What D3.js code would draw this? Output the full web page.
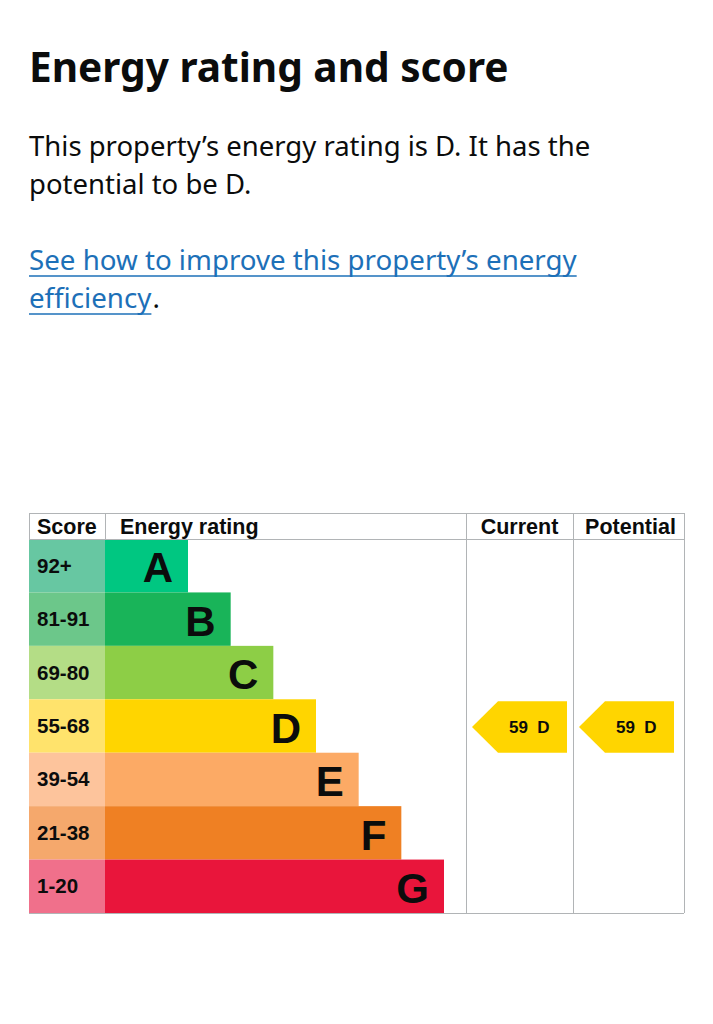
<!DOCTYPE html>
<html>
<head>
<meta charset="utf-8">
<script src="https://cdn.jsdelivr.net/npm/d3@7"></script>
<style>
  body { margin: 0; background: #fff; }
</style>
</head>
<body>
<svg id="svg"></svg>
<script>
var width = 713;
var height = 1024;

// rating bands, top to bottom
const bands = ["A", "B", "C", "D", "E", "F", "G"];
const scoreRanges = ["92+", "81-91", "69-80", "55-68", "39-54", "21-38", "1-20"];
const bandMin = [92, 81, 69, 55, 39, 21, 1];
const barColors = ["#00c781", "#19b459", "#8dce46", "#ffd500", "#fcaa65", "#ef8023", "#e9153b"];
const scoreColors = ["#67c7a2", "#6cc78a", "#b4dd86", "#ffe36c", "#fdc49c", "#f5a86c", "#f0708b"];
const columns = ["Score", "Energy rating", "Current", "Potential"];

const currentScore = 59;
const potentialScore = 59;

const titleText = "Energy rating and score";
const bodyLines = ["This property\u2019s energy rating is D. It has the", "potential to be D."];
const linkLines = ["See how to improve this property\u2019s energy", "efficiency"];

var svg = d3.select("#svg")
    .attr("width", width)
    .attr("height", height)
    .attr("viewBox", [0, 0, width, height]);

const textFont = "'Noto Sans', sans-serif";
const chartFont = "'Liberation Sans', Arial, sans-serif";

// heading + paragraph
svg.append("text")
    .attr("x", 29).attr("y", 82)
    .attr("font-family", textFont)
    .attr("font-weight", 700)
    .attr("font-size", 40.6)
    .attr("fill", "#0b0c0c")
    .text(titleText);

svg.append("g").selectAll("text")
  .data(bodyLines)
  .join("text")
    .attr("x", 29)
    .attr("y", (d, i) => 156 + i * 38)
    .attr("font-family", textFont)
    .attr("font-size", 27.5)
    .attr("fill", "#0b0c0c")
    .text(d => d);

var linkG = svg.append("g");
linkG.selectAll("text")
  .data(linkLines)
  .join("text")
    .attr("x", 29)
    .attr("y", (d, i) => 270 + i * 38)
    .attr("font-family", textFont)
    .attr("font-size", 27.7)
    .attr("fill", "#1d70b8")
    .text(d => d)
    .each(function(d, i) {
      var w = this.getComputedTextLength();
      linkG.append("line")
          .attr("x1", 29).attr("x2", 29 + w)
          .attr("y1", 276 + i * 38).attr("y2", 276 + i * 38)
          .attr("stroke", "#1d70b8")
          .attr("stroke-width", 1.5);
      if (i === linkLines.length - 1) {
        svg.append("text")
            .attr("x", 29 + w + 1)
            .attr("y", 270 + i * 38)
            .attr("font-family", textFont)
            .attr("font-size", 27.7)
            .attr("fill", "#0b0c0c")
            .text(".");
      }
    });

// chart frame
const fLeft = 29, fRight = 684, fTop = 513, headH = 26, fBottom = 913;
const scoreRight = 105, curLeft = 466, potLeft = 573;

const y = d3.scaleBand()
    .domain(bands)
    .range([fTop + headH, fBottom]);

const barEnd = d3.scaleLinear()
    .domain([0, bands.length - 1])
    .range([188, 444]);

var chart = svg.append("g").attr("font-family", chartFont).attr("font-weight", 700);

// score column
chart.append("g").selectAll("rect")
  .data(bands)
  .join("rect")
    .attr("x", fLeft)
    .attr("y", d => y(d))
    .attr("width", scoreRight - fLeft)
    .attr("height", y.bandwidth())
    .attr("fill", (d, i) => scoreColors[i]);

chart.append("g").selectAll("text")
  .data(bands)
  .join("text")
    .attr("x", fLeft + 8)
    .attr("y", d => y(d) + y.bandwidth() / 2 + 7)
    .attr("font-size", 20.5)
    .attr("fill", "#0b0c0c")
    .text((d, i) => scoreRanges[i]);

// rating bars
chart.append("g").selectAll("rect")
  .data(bands)
  .join("rect")
    .attr("x", scoreRight)
    .attr("y", d => y(d))
    .attr("width", (d, i) => barEnd(i) - scoreRight)
    .attr("height", y.bandwidth())
    .attr("fill", (d, i) => barColors[i]);

chart.append("g").selectAll("text")
  .data(bands)
  .join("text")
    .attr("x", (d, i) => barEnd(i) - 15)
    .attr("y", d => y(d) + y.bandwidth() - 10)
    .attr("text-anchor", "end")
    .attr("font-size", 42)
    .attr("fill", "#0b0c0c")
    .text(d => d);

// grid lines
var grid = chart.append("g").attr("stroke", "#b1b4b6").attr("stroke-width", 1).attr("fill", "none");
grid.append("line").attr("x1", fLeft).attr("x2", fRight).attr("y1", fTop + 0.5).attr("y2", fTop + 0.5);
grid.append("line").attr("x1", fLeft).attr("x2", fRight).attr("y1", fTop + headH + 0.5).attr("y2", fTop + headH + 0.5);
grid.append("line").attr("x1", fLeft).attr("x2", fRight).attr("y1", fBottom + 0.5).attr("y2", fBottom + 0.5);
[fLeft, scoreRight].forEach(x => grid.append("line")
    .attr("x1", x + 0.5).attr("x2", x + 0.5).attr("y1", fTop).attr("y2", fTop + headH));
[curLeft, potLeft, fRight].forEach(x => grid.append("line")
    .attr("x1", x + 0.5).attr("x2", x + 0.5).attr("y1", fTop).attr("y2", fBottom));

// headers
const headX = [fLeft + 8, scoreRight + 15, (curLeft + potLeft) / 2, (potLeft + fRight) / 2 + 2];
chart.append("g").selectAll("text")
  .data(columns)
  .join("text")
    .attr("x", (d, i) => headX[i])
    .attr("y", fTop + 21)
    .attr("text-anchor", (d, i) => i < 2 ? "start" : "middle")
    .attr("font-size", 21.5)
    .attr("fill", "#0b0c0c")
    .text(d => d);

// current / potential arrows
function bandOf(score) {
  return bands[bandMin.findIndex(m => score >= m)];
}

const arrows = [
  { score: currentScore, x0: curLeft },
  { score: potentialScore, x0: potLeft }
];

const arrowW = 95;

var arrow = chart.append("g").selectAll("g")
  .data(arrows)
  .join("g");

arrow.append("path")
    .attr("fill", d => barColors[bands.indexOf(bandOf(d.score))])
    .attr("d", d => {
      var b = bandOf(d.score);
      var t = y(b) + 2, h = y.bandwidth() - 2;
      var l = d.x0 + 6, r = l + arrowW;
      return d3.line()([[l, t + h / 2], [l + 26, t], [r, t], [r, t + h], [l + 26, t + h]]) + "Z";
    });

arrow.append("text")
    .attr("x", d => d.x0 + 43)
    .attr("y", d => y(bandOf(d.score)) + y.bandwidth() / 2 + 7)
    .attr("font-size", 17)
    .attr("fill", "#0b0c0c")
    .attr("xml:space", "preserve")
    .text(d => d.score + "  " + bandOf(d.score));
</script>
</body>
</html>
